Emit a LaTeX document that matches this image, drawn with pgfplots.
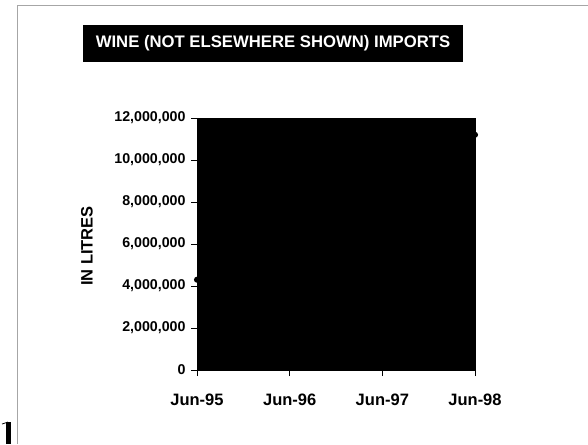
\documentclass[border=0pt]{standalone}
\usepackage{fontspec}
\setmainfont{Liberation Sans}
\usepackage{pgfplots}
\pgfplotsset{compat=1.18}
\begin{document}
\begin{tikzpicture}[x=1pt,y=1pt]
% page frame as in the scan
\useasboundingbox (0,0) rectangle (588,-444);
\draw[gray!70, line width=0.6pt] (17,-444) -- (17,-5) -- (588,-5);
\fill[black] (6,-422) rectangle (11,-444);
\draw[black, line width=0.8pt] (2,-424) -- (8,-422);
% title box
\node[fill=black, text=white, font=\bfseries\fontsize{16.7}{18}\selectfont, minimum width=380pt, minimum height=37pt, inner sep=0pt] at (273,-43.5) {WINE (NOT ELSEWHERE SHOWN) IMPORTS};
\begin{axis}[
    at={(197pt,-370pt)}, anchor=south west,
    scale only axis, width=278pt, height=252pt,
    xmin=0, xmax=36, ymin=0, ymax=12000000,
    xtick={0,12,24,36},
    xticklabels={Jun-95,Jun-96,Jun-97,Jun-98},
    ytick={0,2000000,4000000,6000000,8000000,10000000,12000000},
    scaled y ticks=false,
    yticklabel style={font=\bfseries\fontsize{14.2}{16}\selectfont, xshift=-2pt,
        /pgf/number format/fixed, /pgf/number format/precision=0,
        /pgf/number format/1000 sep={,}, /pgf/number format/assume math mode=true},
    xticklabel style={font=\bfseries\fontsize{16.5}{18}\selectfont, yshift=-14pt},
    tick align=outside, major tick length=6pt,
    tick style={black, line width=0.6pt},
    xtick pos=bottom, ytick pos=left,
    axis line style={black},
    axis background/.style={fill=black},
    clip=false,
]
\addplot[black, line width=1pt, mark=*, mark size=2.5pt] coordinates {
    (0,4300000)(3,4700000)(6,5200000)(9,5600000)(12,6100000)
    (15,6700000)(18,7300000)(21,7900000)(24,8500000)(27,9200000)
    (30,9900000)(33,10600000)(36,11200000)
};
\end{axis}
% y axis title
\node[rotate=90, font=\bfseries\fontsize{16.5}{18}\selectfont] at (87,-246) {IN LITRES};
\end{tikzpicture}
\end{document}
